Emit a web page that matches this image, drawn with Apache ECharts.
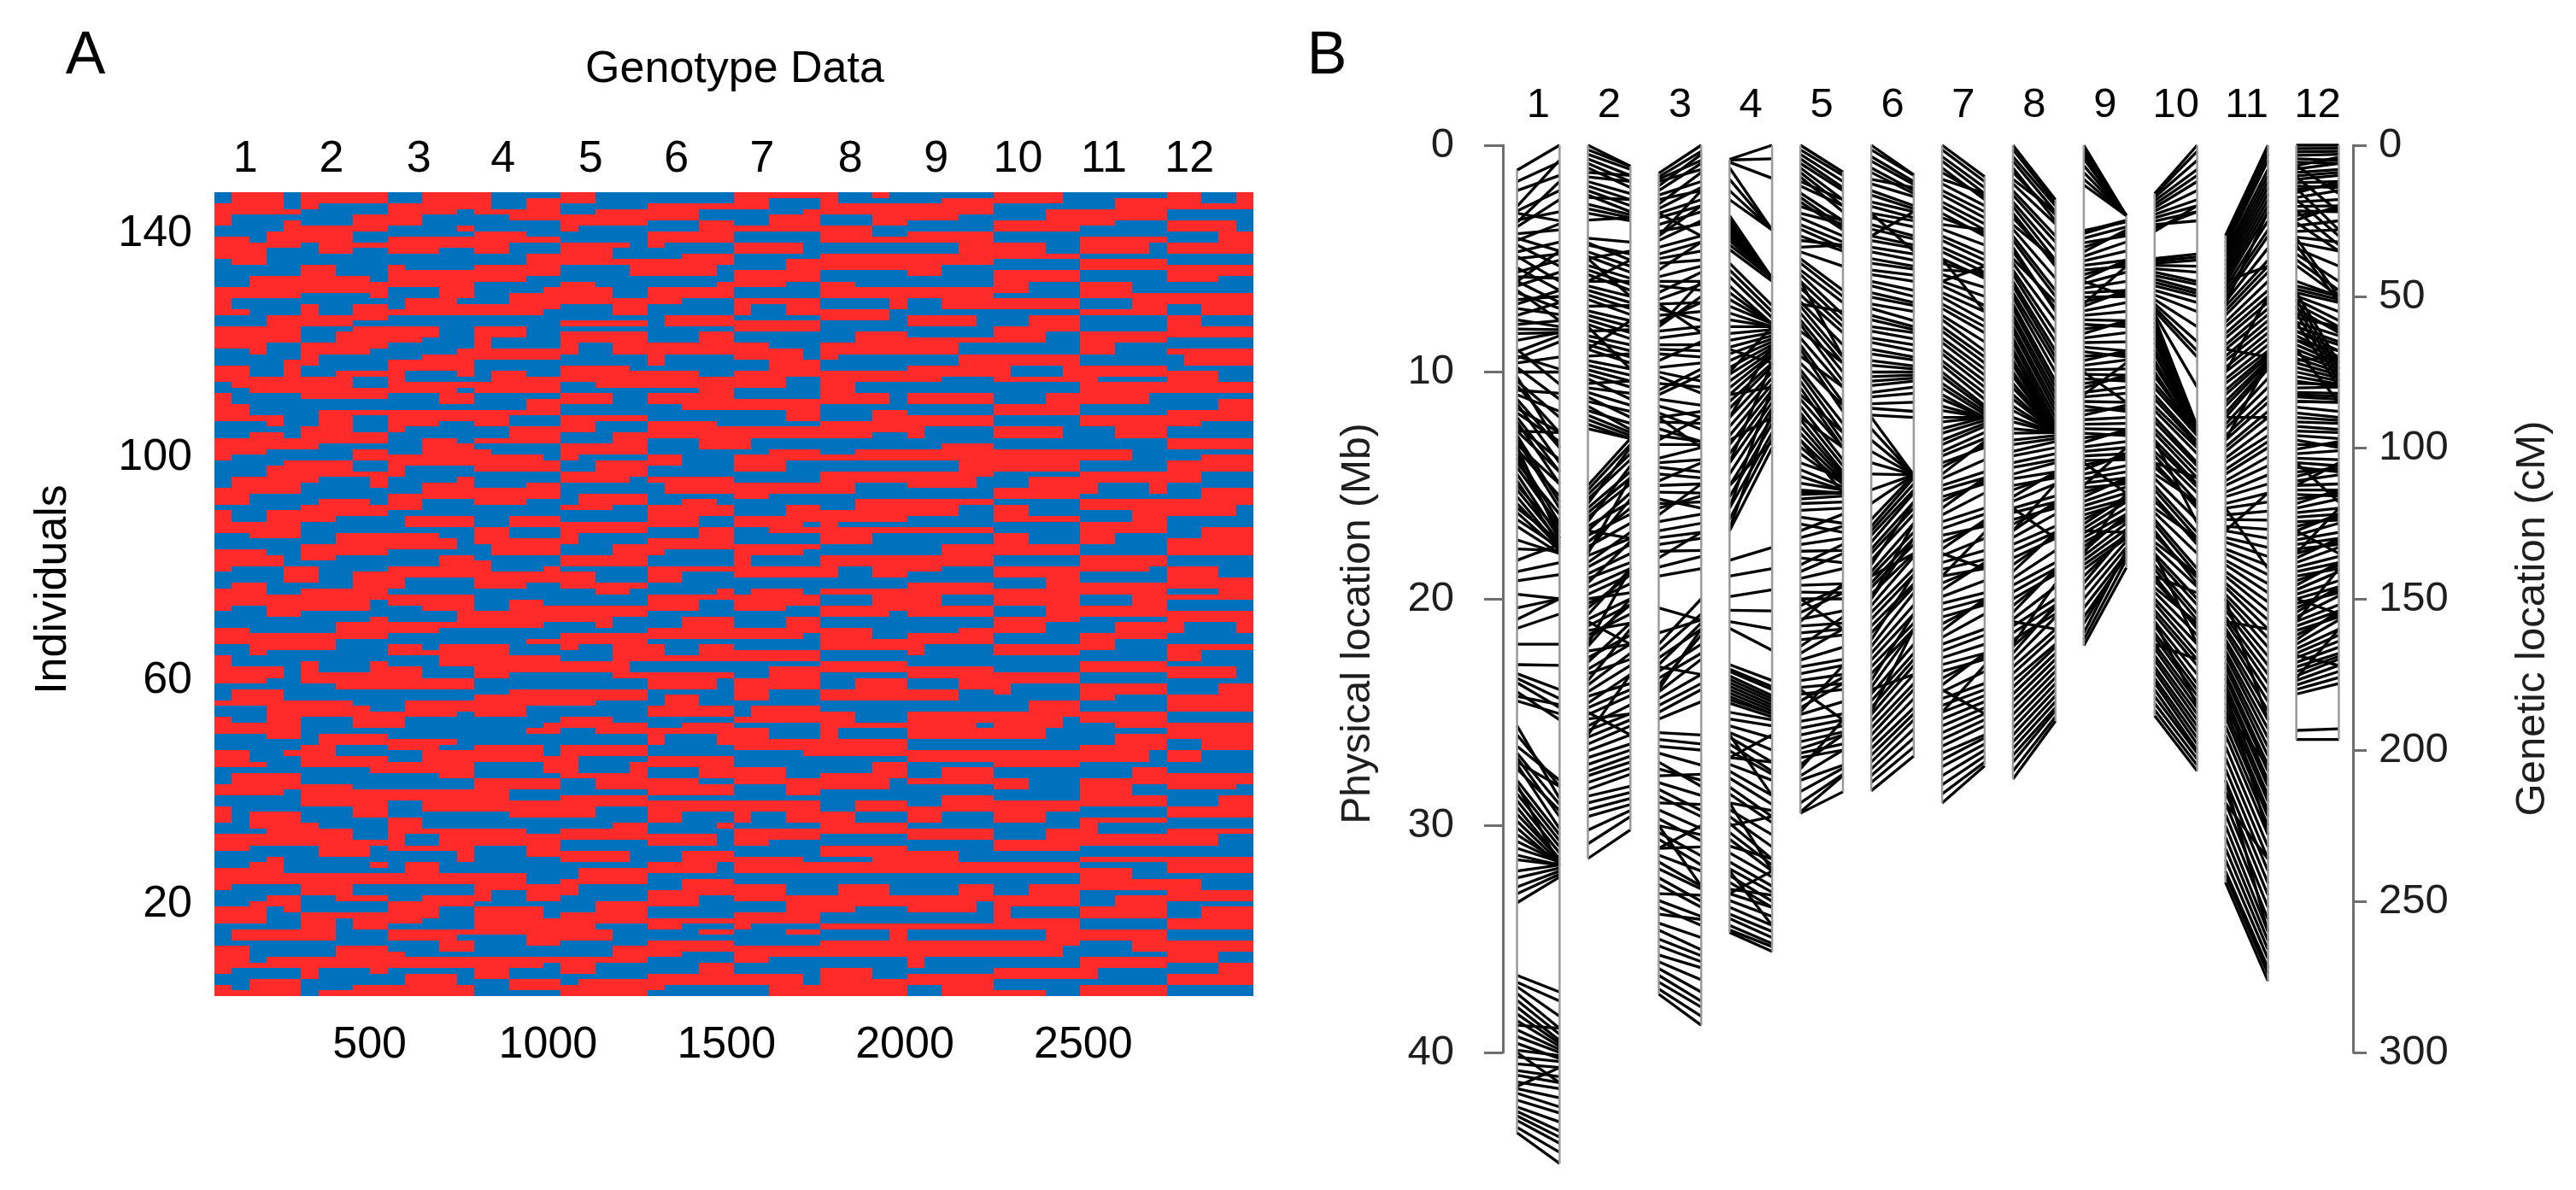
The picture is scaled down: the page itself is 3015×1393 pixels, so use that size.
<!DOCTYPE html>
<html><head><meta charset="utf-8">
<script src="https://cdn.jsdelivr.net/npm/echarts@6.0.0/dist/echarts.min.js"></script>
<style>html,body{margin:0;padding:0;background:#fff;}#c{width:3015px;height:1393px;}</style>
</head><body><div id="c"></div>
<script>
const FONT = '"Liberation Sans", Arial, Helvetica, sans-serif';
const RED = '#FF2B2B', BLUE = '#0072BD';

// ---------- Panel A : genotype data ----------
const markerMin = 65, markerMax = 2977;
const markerTicks = [500, 1000, 1500, 2000, 2500];
const individualTicks = [20, 60, 100, 140];
const individualMin = 3.5, individualMax = 147.5;
const chromNames = ['1','2','3','4','5','6','7','8','9','10','11','12'];
const chromLabelPosA = [152, 393, 638, 874, 1119, 1360, 1600, 1847, 2088, 2317, 2558, 2798];
const binsPerChrom = 5;
const topIndividual = 147;
// per chromosome: 144 tokens (individual 147 at top down to 4), each 5 marker bins; 1 = red, 0 = blue
const genoChr1 = `01110 01110 11110 11111 10000 10001 00001 00011 11011 11111 11100 11100
01100 00000 00000 00111 00111 11111 11111 10000 10000 11000 00011 00011
11111 11111 11111 11100 00100 00000 00001 11001 11001 11111 01111 00111
10000 10000 11000 11000 11110 00010 00000 00110 11111 11111 11100 10000
00001 00011 00011 01111 01111 11111 11000 11000 00000 10011 10011 11111
11111 00111 00000 00000 11100 11110 11110 10001 00001 00001 01100 11100
11111 11111 10011 00011 00000 00000 11000 11111 11111 00111 00100 10000
10000 11110 11110 11100 00000 01110 01110 11111 00011 00011 10011 11111
11111 00011 00000 00000 11001 11000 11100 00000 01111 01111 11111 11110
00000 00000 10000 10111 10111 00111 00011 11111 11111 11000 00000 00010
00110 11110 11111 11111 10000 00000 00011 00111 11101 11100 11100 00000
01111 01111 00000 11000 11000 11011 11111 10000 00000 00111 10111 11111`;
const genoChr2 = `11111 11111 10000 00000 00011 00011 11111 11100 11100 01111 01100 00000
00000 11000 11000 11110 11111 11111 00001 00000 10011 10011 11111 11100
00011 00111 00111 11111 11110 10000 10000 00000 00111 11100 11100 11111
11111 00000 00000 01111 01100 01100 11100 11111 11111 10000 00011 00011
11100 11100 11111 10001 00001 00000 00000 01110 11111 11111 11000 00000
00000 00111 00111 11111 11111 11000 00000 10000 10011 10011 00011 11111
11111 11110 11110 00000 00001 00111 00111 11111 11000 11000 00000 00000
10001 10001 11111 11111 00111 00000 00000 11100 11110 11111 00011 00011
00000 01111 01111 11000 11000 11111 11111 00001 00000 00000 11100 11111
11111 11111 00011 00011 00000 10000 11100 11100 11111 01110 01110 00000
00001 00000 11111 11111 11100 11100 00111 00000 00000 11111 11011 11011
11000 11000 00000 00111 00111 11111 11111 10001 10000 00000 00011 01111`;
const genoChr3 = `00111 00111 11111 11110 11000 11000 00001 00000 11111 11111 11100 00000
00000 10000 11111 11111 11111 00011 00011 01110 01111 11111 00000 00000
11100 11100 11000 00000 00001 00111 11111 11111 10001 10000 11111 11110
00011 00011 00000 11111 11111 11100 10000 00000 00110 00111 00111 11111
11111 10000 10000 00001 00111 00111 11111 11000 11000 00000 01111 01111
00000 11100 11110 11110 00000 00011 00011 11111 11111 10000 10000 00000
11111 11111 00111 00001 00001 11111 11100 00000 00000 11011 11111 00011
00011 11000 11000 11111 11111 00000 00000 01111 01111 11110 10000 10000
00000 00000 11110 11100 00111 00111 11111 11111 00011 00000 00000 11111
11111 00111 00111 00000 11000 11000 11111 10011 10011 11111 00001 00001
01100 01100 11111 11111 00000 00000 00111 11111 11100 11100 11000 00000
11111 11110 00011 00011 10000 11111 11111 00000 01110 01110 11111 11111`;
const genoChr4 = `10000 10011 10011 11111 00111 00000 00000 11100 11111 11000 11000 00011
00011 11111 11111 11100 00000 00001 00111 00111 11111 11110 00000 00000
11100 11100 10000 10000 11111 11111 00000 00000 01100 01111 11111 11111
00000 00011 00011 11111 11000 11000 00111 00111 11111 00000 10000 11110
11111 11111 00000 00000 00011 11111 11111 11100 00000 00000 00111 00111
11000 11000 11111 01111 01111 00000 10000 10001 11111 11111 11100 00000
00000 00110 00111 11111 11111 11110 00000 00000 00011 11000 11000 11111
11111 11111 11000 00000 00000 00111 11111 11111 11100 11100 00000 00001
00011 00000 00000 11110 11110 11111 00001 00001 00000 11111 11111 11000
11000 11111 11111 00111 00000 00000 11100 11111 11111 00011 00011 00000
00000 00000 11100 11100 11111 10011 10011 00000 11110 11110 11111 11111
11111 00011 00011 00000 00000 11111 11110 11000 11000 00111 00111 00000`;
const genoChr5 = `11000 11000 00000 00111 11111 11111 10000 00000 00000 11110 11100 11100
11111 00001 00001 00000 11000 11100 11100 11111 00011 00011 00000 11111
00000 11111 11111 10011 10011 00000 00000 11110 11111 11111 00111 00000
11100 11100 00000 00000 11111 11000 11000 00011 00011 11111 11111 10000
00111 00111 11111 11110 00000 00000 01111 01111 11100 00000 00000 11111
11111 10000 10000 00011 00011 11111 11111 00000 11000 11000 11111 00110
00000 00000 11111 11111 11100 00100 00000 11111 11111 10011 00011 00011
11110 11110 00011 00000 00000 11111 11111 11000 00000 00000 11100 11111
00111 00000 00000 11111 11111 10000 10001 10001 11111 00111 00111 00000
11111 11111 11000 11000 00000 00011 11111 11111 00000 00000 11110 11110
00000 01111 01111 11111 10000 10000 00000 00111 00111 11111 11111 11000
11100 11100 00000 00011 00011 11111 11000 11000 00000 01111 11111 11111`;
const genoChr6 = `00000 00000 11111 11100 11100 00011 00011 11111 11111 10000 00000 00111
11111 11110 11110 00000 00001 11111 11111 11000 00000 00000 01111 01111
00000 00011 00011 11111 11111 10000 10000 00000 11100 11111 11111 00011
11111 11111 00111 00000 00000 11110 11111 11111 00011 00011 00000 11000
11000 00000 00000 11111 01111 01111 00000 00110 11111 11111 11100 11100
00011 00011 11111 11111 10000 00000 00000 11111 11000 11000 00000 00001
11111 11100 11100 00000 00111 00111 11111 11111 00000 10011 10011 11111
00000 00000 11111 11110 11110 00000 01100 01100 11111 11111 00000 00111
11111 10001 10001 00000 00000 11111 11111 00011 00011 11100 11111 11111
00000 11111 11111 11000 11000 00001 00000 11110 11110 00000 00111 00111
11110 11110 00000 00111 00111 11111 11100 11100 00000 00000 11111 11000
00011 00000 11111 11111 11000 00000 00011 00011 11111 11111 10000 00000`;
const genoChr7 = `11111 11000 11000 00001 00111 00111 11111 00000 00000 11110 11110 00000
00011 00011 11111 11111 11100 00000 00000 11111 10011 10011 00000 11111
11111 00000 00000 11000 11110 11110 00111 00111 11111 11100 11100 00000
00000 11111 11111 00011 00011 00000 11111 11111 10000 10000 00111 11111
11100 11100 00000 00000 11111 11111 11000 00000 00011 00011 11111 11110
00111 00000 00000 11111 11110 10000 10000 11111 11111 00000 00000 01110
11111 11111 11100 00000 00011 00011 11111 11110 00000 00000 11111 11111
00000 00111 00111 11111 11111 11000 11000 00000 01111 01111 11111 00000
11000 11000 11111 11111 00001 00000 00000 11100 11100 11111 00011 00011
00000 11111 11111 10011 10011 00000 11111 11111 11000 00000 00000 11110
11111 11111 00000 00000 11100 11100 11111 00011 00011 11111 11111 10000
00011 00000 00000 11111 11111 11000 00000 00000 11110 11110 00111 00111`;
const genoChr8 = `10010 10000 11111 11111 00011 00011 11100 11100 11111 00000 00000 11111
11111 11111 00000 00000 11000 11111 11111 00001 00001 11110 11110 00000
00000 00111 00111 11111 11111 10000 00000 00000 11111 11111 11000 11000
11110 11110 00000 00011 00011 11111 11111 11100 00000 00000 00111 11111
00000 00000 11111 11111 11000 11000 00000 00111 00111 11111 11111 10000
11111 11100 11100 00000 00000 11111 11111 10011 10011 00000 00000 11111
00011 00011 11111 11110 00000 00000 11100 11100 11111 11111 00000 00000
11111 11111 00000 00111 00111 11111 11111 00000 00000 11000 11000 11111
10000 10000 11111 11111 11111 00000 00011 00011 11111 11110 11110 00000
00000 00111 00111 11000 11000 11111 11111 00000 00000 11111 11111 00011
11111 11111 00000 00000 01110 01110 11111 11111 11000 00000 00000 11111
00001 00001 11111 11111 11111 00000 00000 11100 11100 11111 11111 11111`;
const genoChr9 = `00000 00111 11111 11111 11100 00000 00000 11111 11111 00011 00011 11111
11111 11000 11000 00000 00000 11111 11111 00111 00111 00000 11110 11110
00000 00000 11111 11100 11100 00011 00011 11111 11111 11000 00000 00000
11111 11111 00000 00000 11111 11111 10000 10000 00000 00111 11111 11111
00011 00011 11111 11110 11110 00000 00000 11111 11100 11100 00000 00000
11111 00000 00000 00111 00111 11111 11111 11000 00000 00000 11111 11111
11000 11000 11111 11111 00000 00000 00011 11111 11111 10000 10000 00000
00000 11111 11111 00011 00011 11100 11100 00000 00000 11111 11111 11110
11111 11111 00000 00000 11111 11111 00000 00111 00111 11111 00000 00000
00111 00111 11111 11000 11000 00000 11111 11111 00000 00000 11100 11100
11111 11111 00000 00000 00011 00011 11111 11110 11110 00000 00000 11111
00000 00000 11111 11111 11111 10000 10000 00000 11111 11111 00111 00111`;
const genoChr10 = `11110 11110 00000 00011 00011 11111 11111 00000 00000 11100 11100 11111
00000 00000 11111 11111 11000 11000 00000 11111 11111 00000 00111 00111
11111 11100 11100 00000 00000 11111 11111 10001 10001 11111 00000 00000
00011 00011 11111 11111 00000 00000 11110 11110 00000 00000 11111 11111
11111 11111 00000 00111 00111 11111 11111 00000 11000 11000 11111 00000
00000 11000 11000 11111 11111 00000 00000 11111 11111 00011 00011 11111
11111 11111 00011 00011 11111 11100 11100 00000 00000 11111 11111 00000
00000 00000 11111 11111 10000 10000 00000 00111 00111 11111 11110 11110
11100 11100 00000 00000 11111 11111 11111 00000 00000 11000 11000 00000
00000 11111 11111 11100 11100 00000 00011 00011 11111 11111 00000 00000
11111 11111 00000 00000 00111 00111 11111 11111 10000 10000 11111 11111
00011 00011 11111 11110 11110 00000 00000 11111 11111 00000 00000 11100`;
const genoChr11 = `00000 00111 00111 11111 11111 11000 00000 00000 11111 11110 11110 00000
11111 11111 00000 00000 11100 11100 11111 00011 00011 11111 00000 00000
00000 11111 11111 11000 11000 00000 00000 11111 11111 10000 11111 11111
11110 11110 00000 00000 11111 11111 00111 00111 00000 00000 11100 11100
00000 00000 11111 11111 10001 10001 00000 11111 11111 00011 00011 11111
11111 11000 11000 00000 00000 11111 11111 11110 00000 00000 11111 11111
00011 00011 11111 11111 00000 00111 00111 11111 11000 11000 00000 00000
11111 11111 00000 00000 11111 11111 11000 00000 00000 11111 11111 00111
00000 00111 00111 11111 11110 11110 00000 00011 00011 11111 11100 11100
11111 11111 00000 00000 11111 10000 10000 11111 11111 00000 00000 11111
00000 11100 11100 11111 11111 00000 00111 00111 11111 11111 00000 00000
11111 11111 00011 00011 00000 11111 11111 10000 10000 00000 11111 11111`;
const genoChr12 = `11001 11001 11111 00000 00000 11110 11110 00011 00011 11111 11111 00000
00000 11111 11111 11100 00000 00000 11111 11111 00111 00111 11000 11000
11111 11111 00000 00000 11111 01111 01111 00000 11100 11100 11111 11111
00000 00011 00011 11111 11111 11000 00000 00000 11111 11111 00000 00111
11111 11111 11000 11000 00000 00111 00111 11111 11110 11110 00000 00000
00111 00111 11111 11111 11111 00000 00000 11100 11100 11111 11111 00011
11111 00000 00000 11111 11111 10001 10001 00000 00000 11111 11000 11000
00000 11110 11110 00000 00011 00011 11111 11111 11111 00000 00000 11111
11111 11111 00111 00111 11000 11000 00000 00000 11111 11111 11110 00000
00011 00011 11111 11111 00000 00000 11111 11100 11100 00000 00000 11111
11111 11111 00000 11000 11000 11111 11111 00000 00111 00111 11111 11111
00000 00000 11111 11111 11100 11100 00011 00011 11111 11111 00000 00000`;
const genoChroms = [genoChr1, genoChr2, genoChr3, genoChr4, genoChr5, genoChr6,
                    genoChr7, genoChr8, genoChr9, genoChr10, genoChr11, genoChr12];

// ---------- Panel B : physical (Mb) vs genetic (cM) position of each marker ----------
const physMax = 40, physStep = 10;
const genMax = 300, genStep = 50;
const chr1 = [[1.10,0],[1.6,5.6],[2.7,5],[2.9,15],[3.3,22],[3.6,18],[3.9,28],[4.4,40],[4.7,32],[5.0,36],[5.4,48],[5.8,44],[6.2,42],[6.5,54],[6.8,50],[7.2,56],[7.5,52],[7.9,58],[8.1,61],[8.3,62],[9.0,79],[9.1,63],[9.6,70],[10.0,75],[10.4,90],[10.8,82],[11.2,100],[11.6,95],[12.0,108],[12.4,104],[12.8,118],[13.2,112],[13.6,125],[14.0,122],[14.5,130],[15.0,128],[15.5,133],[16.0,131],[16.5,133],[17.4,135],[18.3,132],[18.8,138],[19.8,150],[20.9,150],[21.3,155],[22.0,165],[22.9,172],[23.3,180],[23.7,186],[24.1,190],[24.5,188],[25.6,216],[26.5,210],[27.0,222],[27.5,220],[28.0,228],[28.6,232],[29.2,236],[29.8,237],[30.4,237],[31.0,237],[31.5,238],[32.0,238],[32.7,240],[33.4,242],[36.6,280],[36.9,283],[37.4,292],[38.0,296],[38.6,298],[39.3,300],[39.9,301],[40.5,305],[41.0,310],[41.6,315],[42.1,320],[42.6,326],[43.0,330],[43.54,336.7],
 [2.0,10],[3.0,25],[4.1,35],[4.9,45],[5.6,38],[6.0,52],[7.0,48],[7.7,60],[8.6,62],[9.3,74],[9.8,84],[10.6,95],[11.0,88],[11.4,105],[11.8,98],[12.2,112],[12.6,108],[13.0,120],[13.4,116],[13.8,128],[14.2,126],[14.8,132],[15.2,131],[15.8,133],[16.2,134],[16.8,135],[17.8,134],[19.2,142],[20.4,150],[23.5,183],[24.3,185],[26.0,212],[26.8,218],[27.3,226],[28.3,230],[28.9,234],[29.5,236],[30.1,238],[30.7,237],[31.3,238],[32.3,239],[33.0,241],[37.1,288],[37.7,294],[38.3,297],[39.0,299],[39.6,302],[40.2,303],[40.8,308],[41.3,312],[41.8,318],[42.4,323],[42.8,328],[43.3,333],
 [3.4,12],[4.2,26],[6.0,35],[6.4,58],[9.4,65],[10.2,100],[12.6,95],[13.3,130],[27.2,212],[28.2,238],[38.8,292],[40.0,310],[41.5,305]];
const chr2 = [[0,6.9],[0.4,8],[0.8,12],[1.2,10],[1.6,16],[2.0,20],[2.3,18],[2.6,23],[3.0,25],[3.3,24],[4.1,32],[4.4,36],[4.7,40],[5.0,35],[5.3,44],[5.7,48],[6.0,45],[6.4,52],[6.8,56],[7.1,53],[7.5,60],[7.9,64],[8.2,61],[8.6,68],[9.0,72],[9.3,69],[9.7,76],[10.1,80],[10.5,78],[10.9,86],[11.3,88],[11.7,92],[12.1,96],[12.5,97],[15.0,97],[15.4,102],[15.8,100],[16.2,110],[16.6,106],[17.0,115],[17.5,120],[17.9,117],[18.4,128],[18.9,135],[19.3,131],[19.8,142],[20.2,145],[20.7,140],[21.2,152],[21.6,155],[22.1,150],[22.6,162],[23.1,165],[23.6,160],[24.1,172],[24.6,175],[25.1,182],[25.6,185],[26.1,190],[26.7,195],[27.3,200],[27.8,204],[28.4,208],[29.0,214],[29.6,218],[30.2,220],[30.8,222],[31.45,226.4],
 [0.2,7],[0.6,10],[1.0,14],[1.4,12],[1.8,18],[2.2,22],[2.8,24],[4.3,38],[4.9,42],[5.5,46],[6.2,50],[6.6,54],[7.3,58],[7.7,62],[8.4,66],[8.8,70],[9.5,74],[9.9,78],[10.3,84],[10.7,82],[11.1,90],[11.5,94],[11.9,95],[12.3,97],[15.2,99],[15.6,104],[16.0,108],[16.4,112],[16.8,118],[17.2,122],[17.7,125],[18.1,130],[18.6,132],[19.1,138],[19.5,140],[20.0,148],[20.4,142],[20.9,150],[21.4,158],[21.8,152],[22.3,165],[22.8,158],[23.3,170],[23.8,168],[24.3,178],[24.8,180],[25.3,188],[25.8,188],[26.4,192],[27.0,198],[27.6,202],[28.1,206],[28.7,212],[29.3,216],
 [5.0,50],[6.0,38],[8.0,74],[9.0,58],[17.0,130],[18.0,110],[21.0,165],[22.0,140],[25.0,195],[26.0,175]];
const chr3 = [[1.24,0],[1.5,5],[1.8,3],[2.2,12],[2.6,9],[3.0,18],[3.5,22],[4.0,20],[4.5,30],[5.0,35],[5.5,32],[6.0,45],[6.5,42],[7.0,52],[7.5,55],[8.0,50],[8.5,62],[9.0,68],[9.5,65],[10.0,78],[10.5,80],[11.0,76],[11.5,90],[12.0,88],[12.5,98],[13.2,99],[13.8,100],[14.2,108],[14.8,105],[15.3,115],[15.8,118],[16.3,112],[17.0,125],[17.6,130],[18.2,128],[19.0,140],[20.4,157],[21.5,157],[22.0,150],[22.6,160],[23.2,165],[23.8,162],[24.4,175],[25.0,180],[25.9,195],[26.5,200],[27.2,212],[27.8,208],[28.4,220],[29.0,218],[29.7,230],[30.3,235],[31.0,232],[31.6,245],[32.3,250],[33.0,248],[33.6,258],[34.3,262],[35.0,268],[35.7,272],[36.3,280],[36.9,285],[37.43,291],
 [1.4,2],[1.6,8],[2.0,6],[2.4,15],[2.8,14],[3.2,20],[3.8,26],[4.2,25],[4.8,32],[5.2,38],[5.8,40],[6.2,48],[6.8,46],[7.2,58],[7.8,52],[8.2,60],[8.8,66],[9.2,70],[9.8,72],[10.2,82],[10.8,74],[11.2,86],[11.8,94],[12.2,92],[12.8,98],[14.0,104],[14.5,110],[15.0,112],[15.6,120],[16.0,116],[16.6,122],[17.3,128],[17.9,134],[18.6,136],[22.3,155],[22.9,158],[23.5,168],[24.1,170],[24.7,178],[25.3,184],[26.2,198],[26.8,205],[27.5,210],[28.1,215],[28.7,222],[29.3,226],[30.0,228],[30.6,238],[31.3,240],[31.9,246],[32.6,252],[33.3,255],[33.9,256],[34.6,266],[35.3,270],[36.0,276],[36.6,283],[37.2,288],
 [3.0,30],[4.0,15],[7.0,62],[8.0,45],[12.0,100],[13.0,90],[23.0,175],[24.0,160],[30.0,245],[31.0,225]];
const chr4 = [[0.62,0],[0.65,4.5],[0.75,10.9],[1.0,28],[1.5,28],[2.0,28],[2.4,28],[3.1,44],[3.2,44],[3.3,44],[3.45,44],[3.6,44],[3.75,44],[3.9,44],[4.05,44],[4.2,44],[4.4,44],[4.6,45],[5.2,53],[5.5,55],[5.8,57],[6.2,59],[6.5,59],[6.8,59],[7.1,59],[7.4,60],[7.7,60],[8.0,60],[8.3,61],[8.6,62],[8.9,63],[9.2,64],[9.5,65],[9.8,66],[10.1,67],[10.4,68],[10.7,69],[11.0,70],[11.3,72],[11.6,73],[12.0,75],[12.4,77],[12.8,79],[13.2,81],[13.6,83],[14.0,85],[14.5,87],[15.0,90],[15.5,92],[16.0,95],[16.5,97],[17.0,100],
 [9.0,72],[10.0,60],[11.0,80],[12.0,66],[13.0,90],[14.0,72],[15.0,98],[16.0,80],[16.9,88],
 [18.3,133],[19.0,140],[19.9,147],[20.5,154],[21.0,160],[21.3,167],[22.9,177],[23.1,179],[23.2,180],[23.4,182],[23.55,183],[23.7,184],[23.85,185],[24.0,186],[24.15,187],[24.3,188],[24.45,188],[24.6,189],[25.0,190],[25.3,192],[25.6,196],[25.9,200],[26.1,204],[26.4,207],[26.7,208],[27.0,204],[27.3,210],[27.6,215],[27.9,218],[28.3,222],[28.6,224],[29.0,220],[29.3,228],[29.6,232],[29.9,236],[30.3,238],[30.6,240],[30.9,236],[31.2,242],[31.6,245],[31.9,247],[32.2,250],[32.5,252],[32.8,248],[33.0,252],[33.3,255],[33.6,258],[33.9,260],[34.1,262],[34.4,264],[34.6,265],[34.71,266.6],
 [26.0,215],[27.0,195],[29.0,240],[30.0,222],[32.0,258],[33.0,240]];
const chr5 = [[0,8.9],[0.4,12],[0.8,15],[1.2,20],[1.6,18],[2.1,25],[2.5,28],[3.0,26],[3.5,32],[4.0,35],[4.5,33],[5.0,48],[5.5,52],[6.0,58],[6.6,62],[7.1,70],[7.7,75],[8.2,72],[8.8,85],[9.3,80],[9.9,92],[10.4,98],[11.0,95],[11.5,104],[12.1,108],[12.7,110],[13.3,112],[14.0,110],[14.6,114],[15.2,115],[15.4,115],[15.8,118],[16.4,125],[17.0,122],[17.6,130],[18.2,138],[18.8,135],[19.4,145],[20.0,150],[20.6,148],[21.2,158],[21.8,162],[22.4,160],[23.0,170],[23.6,175],[24.2,180],[24.8,178],[25.4,188],[26.0,192],[26.6,195],[27.0,200],[27.5,190],[28.0,205],[29.4,208.5],[29.45,213.8],
 [0.2,10],[0.6,14],[1.0,18],[1.4,22],[1.8,20],[2.3,27],[2.7,25],[3.2,30],[3.7,34],[4.2,33],[4.7,40],[5.2,50],[5.7,56],[6.3,60],[6.9,66],[7.4,72],[7.9,78],[8.5,80],[9.0,88],[9.6,86],[10.1,95],[10.7,100],[11.2,100],[11.8,106],[12.4,109],[13.0,111],[13.6,112],[14.3,113],[14.9,114],[15.3,115],[15.6,116],[16.1,120],[16.7,128],[17.3,126],[17.9,134],[18.5,132],[19.1,140],[19.7,148],[20.3,146],[20.9,154],[21.5,160],[22.1,156],[22.7,166],[23.3,172],[23.9,178],[24.5,176],[25.1,184],[25.7,190],[26.3,194],[26.8,198],[27.3,195],[27.8,200],[28.5,206],[29.0,208],
 [6.0,70],[7.0,55],[12.0,100],[13.0,115],[20.0,160],[21.0,145],[24.0,190],[25.0,172]];
const chr6 = [[0,9.8],[0.5,12],[1.0,15],[1.5,14],[2.0,20],[2.5,22],[3.0,25],[3.5,30],[4.0,33],[4.5,36],[5.0,40],[5.5,43],[6.0,48],[6.5,52],[7.0,55],[7.5,60],[8.0,62],[8.5,66],[9.0,70],[9.5,73],[10.0,75],[10.4,77],[10.9,80],[11.4,85],[11.9,90],[12.0,109],[13.0,109],[14.0,109],[15.2,109],[16.5,109],[17.0,112],[17.5,115],[18.0,120],[18.5,118],[19.0,128],[19.5,132],[20.0,130],[20.6,140],[21.2,145],[21.8,142],[22.4,152],[23.0,158],[23.6,155],[24.2,165],[24.8,170],[25.4,175],[26.0,180],[26.6,186],[27.2,190],[27.8,196],[28.46,202],
 [0.2,10],[0.7,13],[1.2,16],[1.7,17],[2.2,21],[2.7,24],[3.2,27],[3.7,31],[4.2,34],[4.7,38],[5.2,41],[5.7,45],[6.2,50],[6.7,53],[7.2,58],[7.7,61],[8.2,64],[8.7,68],[9.2,71],[9.7,74],[10.2,76],[10.6,78],[11.1,82],[11.6,88],[12.5,109],[13.5,109],[14.5,109],[15.8,109],[16.8,110],[17.2,114],[17.8,118],[18.3,122],[18.8,125],[19.3,130],[19.8,135],[20.3,136],[20.9,142],[21.5,146],[22.1,148],[22.7,155],[23.3,160],[23.9,160],[24.5,168],[25.1,172],[25.7,178],[26.3,183],[26.9,188],[27.5,193],[28.1,199],
 [3.0,35],[4.0,22],[19.0,135],[20.0,125],[24.0,175],[25.0,160]];
const chr7 = [[0,10.4],[0.5,14],[1.0,18],[1.5,16],[2.0,22],[2.5,26],[3.0,30],[3.5,28],[4.0,36],[4.5,40],[5.0,44],[5.5,42],[6.0,50],[6.5,55],[7.0,60],[7.5,65],[8.0,70],[8.5,74],[9.0,78],[9.5,82],[10.0,86],[10.5,88],[11.0,90],[11.5,90],[12.0,90],[12.5,90],[13.0,92],[13.5,95],[14.0,100],[14.5,98],[15.0,108],[15.5,112],[16.0,110],[16.6,120],[17.2,126],[17.8,124],[18.4,134],[19.0,140],[19.6,138],[20.2,148],[20.8,152],[21.4,150],[22.0,160],[22.6,165],[23.2,170],[23.8,168],[24.4,178],[25.0,182],[25.6,186],[26.2,190],[26.8,195],[27.4,198],[28.2,202],[29.0,205.2],
 [0.2,12],[0.7,16],[1.2,17],[1.7,20],[2.2,24],[2.7,28],[3.2,29],[3.7,33],[4.2,38],[4.7,42],[5.2,43],[5.7,47],[6.2,53],[6.7,58],[7.2,62],[7.7,68],[8.2,72],[8.7,76],[9.2,80],[9.7,84],[10.2,87],[10.7,89],[11.2,90],[11.7,90],[12.2,90],[12.7,91],[13.2,93],[13.7,97],[14.2,99],[14.7,104],[15.2,110],[15.7,111],[16.3,115],[16.9,122],[17.5,125],[18.1,130],[18.7,137],[19.3,139],[19.9,144],[20.5,150],[21.1,151],[21.7,155],[22.3,162],[22.9,168],[23.5,169],[24.1,174],[24.7,180],[25.3,184],[25.9,188],[26.5,192],[27.1,196],[27.8,200],[28.6,204],
 [5.0,55],[6.0,40],[18.0,140],[19.0,128],[24.0,188],[25.0,172]];
const chr8 = [[0,18],[0.5,20],[1.0,25],[1.5,22],[2.0,30],[2.5,35],[3.0,40],[3.5,38],[4.0,48],[4.5,55],[5.0,52],[5.5,62],[6.0,68],[6.5,72],[7.0,78],[7.5,82],[8.0,86],[8.5,90],[9.0,93],[9.5,94],[10.0,95],[10.5,95],[11.0,95],[11.5,95],[12.0,95],[12.5,95],[13.0,96],[13.5,98],[14.0,102],[14.5,105],[15.0,110],[15.5,108],[16.0,116],[16.5,120],[17.0,118],[17.6,126],[18.2,130],[18.8,128],[19.4,138],[20.0,142],[20.6,140],[21.2,150],[21.8,155],[22.4,152],[23.0,160],[23.6,165],[24.2,168],[24.8,172],[25.4,176],[26.0,180],[26.6,184],[27.2,187],[27.95,190.4],
 [0.2,19],[0.7,22],[1.2,23],[1.7,26],[2.2,32],[2.7,38],[3.2,39],[3.7,44],[4.2,50],[4.7,54],[5.2,58],[5.7,65],[6.2,70],[6.7,75],[7.2,80],[7.7,84],[8.2,88],[8.7,92],[9.2,94],[9.7,95],[10.2,95],[10.7,95],[11.2,95],[11.7,95],[12.2,95],[12.7,95],[13.2,97],[13.7,100],[14.2,104],[14.7,108],[15.2,109],[15.7,112],[16.2,118],[16.7,119],[17.3,122],[17.9,128],[18.5,129],[19.1,134],[19.7,140],[20.3,141],[20.9,146],[21.5,152],[22.1,153],[22.7,156],[23.3,162],[23.9,166],[24.5,170],[25.1,174],[25.7,178],[26.3,182],[26.9,186],[27.6,189],
 [16.0,130],[17.0,112],[21.0,160],[22.0,145]];
const chr9 = [[0,23.3],[0.3,23.3],[0.6,23.3],[1.2,23.3],[1.75,23.3],[3.76,25.4],[3.9,25],[4.3,30],[4.7,28],[5.1,35],[5.5,40],[5.9,38],[6.3,45],[6.7,50],[7.1,48],[7.5,55],[7.9,60],[8.3,58],[8.7,65],[9.1,70],[9.5,68],[9.9,74],[10.3,78],[10.7,76],[11.1,82],[11.5,88],[11.9,86],[12.3,92],[12.7,96],[13.1,94],[13.5,100],[13.9,104],[14.3,102],[14.7,108],[15.1,112],[15.5,110],[15.9,115],[16.3,118],[16.7,116],[17.1,120],[17.5,124],[17.9,122],[18.3,127],[18.7,130],[19.3,128],[20.0,133],[20.8,136],[21.5,134],[22.06,139.7],
 [0.15,23.3],[0.45,23.3],[0.9,23.3],[1.5,23.3],[3.8,24.8],[4.1,27],[4.5,29],[4.9,32],[5.3,38],[5.7,39],[6.1,42],[6.5,48],[6.9,49],[7.3,52],[7.7,58],[8.1,59],[8.5,62],[8.9,68],[9.3,69],[9.7,71],[10.1,76],[10.5,77],[10.9,80],[11.3,85],[11.7,87],[12.1,90],[12.5,94],[12.9,95],[13.3,98],[13.7,102],[14.1,103],[14.5,106],[14.9,110],[15.3,111],[15.7,113],[16.1,117],[16.5,117],[16.9,118],[17.3,122],[17.7,123],[18.1,125],[18.5,129],[19.0,129],[19.6,131],[20.4,135],[21.1,135],[21.8,137],
 [6.0,50],[7.0,40],[10.0,85],[11.0,72],[14.0,115],[15.0,100],[17.0,128],[18.0,115]];
const chr10 = [[2.13,0],[2.3,5],[2.6,10],[2.9,15],[3.2,20],[3.5,25],[3.8,20],[5.1,37],[5.3,40],[5.6,45],[5.9,48],[6.2,50],[6.6,55],[7.0,65],[7.3,70],[7.6,93],[8.0,95],[8.5,95],[9.0,95],[9.5,95],[10.0,96],[10.5,95],[11.0,98],[11.5,100],[12.0,105],[12.5,108],[13.0,112],[13.5,115],[14.0,120],[14.5,118],[15.0,128],[15.5,132],[16.0,130],[16.5,140],[17.0,145],[17.5,142],[18.0,150],[18.5,155],[19.0,160],[19.5,158],[20.0,165],[20.5,170],[21.0,175],[21.5,180],[22.0,184],[22.5,188],[23.0,192],[23.5,196],[24.0,200],[24.6,203],[25.15,206.9],
 [2.2,2],[2.45,8],[2.75,12],[3.05,18],[3.35,22],[3.65,22],[5.0,36],[5.2,38],[5.45,42],[5.75,46],[6.05,49],[6.4,52],[6.8,60],[7.15,68],[7.45,80],[7.8,94],[8.2,95],[8.7,95],[9.2,95],[9.7,95],[10.2,95],[10.7,96],[11.2,99],[11.7,102],[12.2,106],[12.7,110],[13.2,113],[13.7,118],[14.2,119],[14.7,124],[15.2,130],[15.7,131],[16.2,135],[16.7,142],[17.2,143],[17.7,146],[18.2,152],[18.7,157],[19.2,159],[19.7,162],[20.2,168],[20.7,172],[21.2,178],[21.7,182],[22.2,186],[22.7,190],[23.2,194],[23.7,198],[24.3,201],[24.9,205],
 [13.0,125],[14.0,110],[18.0,165],[19.0,148],[21.0,185],[22.0,170]];
const chr11 = [[3.98,0],[4.3,3],[4.7,8],[5.1,12],[5.5,16],[5.9,20],[6.3,25],[6.7,30],[7.1,38],[7.5,42],[8.0,48],[8.5,52],[9.0,56],[9.5,60],[10.0,64],[10.5,68],[11.0,70],[11.5,72],[12.0,74],[12.5,80],[13.0,85],[13.5,90],[14.0,96],[14.5,100],[15.0,106],[15.5,112],[16.0,118],[16.5,124],[17.0,130],[17.5,136],[18.0,142],[18.5,148],[19.0,154],[19.5,160],[20.0,166],[20.5,172],[21.0,178],[21.5,184],[22.0,190],[22.5,196],[23.0,202],[23.5,207],[24.0,212],[24.6,217],[25.2,222],[26.0,228],[27.0,236],[28.0,244],[29.0,252],[30.0,260],[31.0,266],[32.0,272],[32.5,276.4],
 [4.1,1],[4.5,5],[4.9,10],[5.3,14],[5.7,18],[6.1,22],[6.5,28],[6.9,34],[7.3,40],[7.8,45],[8.3,50],[8.8,54],[9.3,58],[9.8,62],[10.3,66],[10.8,69],[11.3,71],[11.8,73],[12.3,77],[12.8,83],[13.3,88],[13.8,93],[14.3,98],[14.8,103],[15.3,109],[15.8,115],[16.3,121],[16.8,127],[17.3,133],[17.8,139],[18.3,145],[18.8,151],[19.3,157],[19.8,163],[20.3,169],[20.8,175],[21.3,181],[21.8,187],[22.3,193],[22.8,199],[23.3,205],[23.8,210],[24.3,215],[24.9,220],[25.6,225],[26.5,232],[27.5,240],[28.5,248],[29.5,256],[30.5,263],[31.5,269],[32.2,274],
 [6.0,40],[7.0,22],[9.0,70],[10.0,50],[12.0,90],[13.0,72],[16.0,140],[17.0,115],[20.0,190],[21.0,160],[24.0,228],[25.0,205],[28.0,260],[29.0,236]];
const chr12 = [[0,0],[0.3,2],[0.6,5],[0.9,4],[1.2,8],[1.5,10],[1.8,14],[2.1,12],[2.5,18],[2.9,22],[3.3,20],[3.8,28],[4.3,35],[4.8,45],[5.3,50],[6.2,50],[6.5,52],[6.8,58],[7.2,62],[7.6,60],[8.0,65],[8.4,70],[8.8,72],[9.2,74],[9.6,76],[10.0,78],[10.4,80],[11.3,85],[11.8,90],[12.2,92],[12.6,95],[13.0,100],[13.4,98],[13.8,104],[14.2,108],[14.6,106],[15.0,112],[15.4,116],[15.8,114],[16.2,120],[16.6,124],[17.0,122],[17.4,128],[17.8,132],[18.2,130],[18.6,136],[19.0,140],[19.4,138],[19.8,144],[20.2,148],[20.6,146],[21.0,152],[21.4,156],[21.8,154],[22.2,160],[22.6,164],[23.0,168],[23.4,170],[23.8,174],[24.2,178],[25.8,193],[26.2,196.5],
 [0.15,1],[0.45,3],[0.75,6],[1.05,6],[1.35,9],[1.65,12],[1.95,13],[2.3,15],[2.7,20],[3.1,21],[3.55,25],[4.05,32],[4.55,40],[5.05,48],[6.0,50],[6.35,51],[6.65,55],[7.0,60],[7.4,61],[7.8,63],[8.2,68],[8.6,71],[9.0,73],[9.4,75],[9.8,77],[10.2,79],[11.0,83],[11.55,88],[12.0,91],[12.4,94],[12.8,97],[13.2,99],[13.6,101],[14.0,106],[14.4,107],[14.8,109],[15.2,114],[15.6,115],[16.0,117],[16.4,122],[16.8,123],[17.2,125],[17.6,130],[18.0,131],[18.4,133],[18.8,138],[19.2,139],[19.6,141],[20.0,146],[20.4,147],[20.8,149],[21.2,154],[21.6,155],[22.0,157],[22.4,162],[22.8,166],[23.2,169],[23.6,172],[24.0,176],
 [0.9,16],[1.4,22],[1.9,28],[2.4,30],[2.9,33],[3.4,35],[4.1,50],[4.4,52],[6.5,72],[6.8,74],[7.1,76],[7.4,78],[7.8,80],[8.2,66],[8.6,68],[10.5,79],[10.7,80],[10.9,82],[11.1,84],[11.3,85],
 [9.0,85],[9.5,70],[14.0,118],[15.0,105],[17.0,135],[18.0,120],[20.0,155],[21.0,140],[22.5,172],[23.5,160]];
const chromosomesB = [chr1, chr2, chr3, chr4, chr5, chr6, chr7, chr8, chr9, chr10, chr11, chr12];

// ---------- build series data ----------
const chromTokens = genoChroms.map(s => s.trim().split(/\s+/));
const nRows = chromTokens[0].length;
const binsPerRow = binsPerChrom * genoChroms.length;
const binW = (markerMax - markerMin) / binsPerRow;
const redSegments = [];
for (let i = 0; i < nRows; i++) {
  const bits = chromTokens.map(t => t[i] || '00000').join('');
  const ind = topIndividual - i;
  let j = 0;
  while (j < bits.length) {
    if (bits[j] === '1') {
      let k = j;
      while (k < bits.length && bits[k] === '1') k++;
      redSegments.push([markerMin + j * binW, markerMin + k * binW, ind]);
      j = k;
    } else j++;
  }
}
const markerLines = [];
const chromEdges = [];
chromosomesB.forEach((pairs, ci) => {
  const c = ci + 1;
  let pmin = Infinity, pmax = -Infinity, gmin = Infinity, gmax = -Infinity;
  pairs.forEach(([p, g]) => {
    markerLines.push([c, p, g]);
    pmin = Math.min(pmin, p); pmax = Math.max(pmax, p);
    gmin = Math.min(gmin, g); gmax = Math.max(gmax, g);
  });
  chromEdges.push([c, pmin, pmax, gmin, gmax]);
});
const HALF = 0.3;

const chart = echarts.init(document.getElementById('c'), null, {renderer: 'canvas', width: 3015, height: 1393});
const txt = {fontFamily: FONT, color: '#000'};

chart.setOption({
  animation: false,
  backgroundColor: '#fff',
  grid: [
    {left: 251, top: 225, width: 1216, height: 941, show: true, backgroundColor: BLUE, borderWidth: 0},
    {left: 1759, top: 170, width: 995, height: 1062}
  ],
  xAxis: [
    {gridIndex: 0, type: 'value', min: markerMin, max: markerMax, position: 'bottom',
     axisLine: {show: false}, axisTick: {show: false}, splitLine: {show: false},
     axisLabel: Object.assign({fontSize: 52, margin: 32, customValues: markerTicks, formatter: v => String(v)}, txt)},
    {gridIndex: 0, type: 'value', min: markerMin, max: markerMax, position: 'top',
     axisLine: {show: false}, axisTick: {show: false}, splitLine: {show: false},
     axisLabel: Object.assign({fontSize: 52, margin: 12, customValues: chromLabelPosA,
       formatter: v => chromNames[chromLabelPosA.indexOf(v)]}, txt)},
    {gridIndex: 1, type: 'value', min: 0.5, max: 12.5, position: 'top',
     axisLine: {show: false}, axisTick: {show: false}, splitLine: {show: false},
     axisLabel: Object.assign({fontSize: 49, margin: 22, customValues: [1,2,3,4,5,6,7,8,9,10,11,12]}, txt)}
  ],
  yAxis: [
    {gridIndex: 0, type: 'value', min: individualMin, max: individualMax,
     axisLine: {show: false}, axisTick: {show: false}, splitLine: {show: false},
     axisLabel: Object.assign({fontSize: 52, margin: 26, customValues: individualTicks}, txt)},
    {gridIndex: 1, type: 'value', min: 0, max: physMax, interval: physStep, inverse: true, position: 'left',
     axisLine: {show: true, lineStyle: {color: '#6e6e6e', width: 3}},
     axisTick: {show: true, length: 22, lineStyle: {color: '#6e6e6e', width: 3}},
     splitLine: {show: false},
     axisLabel: Object.assign({fontSize: 49, margin: 57}, txt, {color: '#1e1e1e'})},
    {gridIndex: 1, type: 'value', min: 0, max: genMax, interval: genStep, inverse: true, position: 'right',
     axisLine: {show: true, lineStyle: {color: '#6e6e6e', width: 3}},
     axisTick: {show: true, length: 16, lineStyle: {color: '#6e6e6e', width: 3}},
     splitLine: {show: false},
     axisLabel: Object.assign({fontSize: 49, margin: 30}, txt, {color: '#1e1e1e'})}
  ],
  series: [
    {
      type: 'custom', xAxisIndex: 0, yAxisIndex: 0, data: redSegments,
      encode: {x: [0, 1], y: 2}, clip: true, silent: true,
      renderItem(params, api) {
        const a = api.coord([api.value(0), api.value(2) + 0.5]);
        const b = api.coord([api.value(1), api.value(2) - 0.5]);
        const x = Math.round(a[0]), y = Math.round(a[1]);
        return {type: 'rect', shape: {x: x, y: y, width: Math.round(b[0]) - x, height: Math.round(b[1]) - y},
                style: {fill: RED}};
      }
    },
    {
      type: 'custom', xAxisIndex: 2, yAxisIndex: 1, data: markerLines,
      encode: {x: 0, y: 1}, clip: false, silent: true,
      renderItem(params, api) {
        const c = api.value(0), p = api.value(1), g = api.value(2);
        const L = api.coord([c - HALF, p]);
        const xR = api.coord([c + HALF, p])[0];
        const yR = chart.convertToPixel({yAxisIndex: 2}, g);
        return {type: 'line', shape: {x1: L[0], y1: L[1], x2: xR, y2: yR},
                style: {stroke: '#000', lineWidth: 3.3}};
      }
    },
    {
      type: 'custom', xAxisIndex: 2, yAxisIndex: 1, data: chromEdges,
      encode: {x: 0, y: [1, 2]}, clip: false, silent: true, z: 3,
      renderItem(params, api) {
        const c = api.value(0);
        const a = api.coord([c - HALF, api.value(1)]);
        const b = api.coord([c - HALF, api.value(2)]);
        const xR = api.coord([c + HALF, 0])[0];
        const r1 = chart.convertToPixel({yAxisIndex: 2}, api.value(3));
        const r2 = chart.convertToPixel({yAxisIndex: 2}, api.value(4));
        const st = {stroke: '#9a9a9a', lineWidth: 2.5};
        return {type: 'group', children: [
          {type: 'line', shape: {x1: a[0], y1: a[1], x2: b[0], y2: b[1]}, style: st},
          {type: 'line', shape: {x1: xR, y1: r1, x2: xR, y2: r2}, style: st}
        ]};
      }
    }
  ],
  graphic: [
    {type: 'text', x: 100, y: 67, style: {text: 'A', fontSize: 70, fontFamily: FONT, fill: '#000', textAlign: 'center', textVerticalAlign: 'middle'}},
    {type: 'text', x: 1553, y: 67, style: {text: 'B', fontSize: 70, fontFamily: FONT, fill: '#000', textAlign: 'center', textVerticalAlign: 'middle'}},
    {type: 'text', x: 860, y: 82, style: {text: 'Genotype Data', fontSize: 52, fontFamily: FONT, fill: '#000', textAlign: 'center', textVerticalAlign: 'middle'}},
    {type: 'text', x: 63, y: 690, rotation: Math.PI / 2, style: {text: 'Individuals', fontSize: 52, fontFamily: FONT, fill: '#000', textAlign: 'center', textVerticalAlign: 'middle'}},
    {type: 'text', x: 1590, y: 730, rotation: Math.PI / 2, style: {text: 'Physical location (Mb)', fontSize: 48, fontFamily: FONT, fill: '#1e1e1e', textAlign: 'center', textVerticalAlign: 'middle'}},
    {type: 'text', x: 2964, y: 724, rotation: Math.PI / 2, style: {text: 'Genetic location (cM)', fontSize: 49, fontFamily: FONT, fill: '#1e1e1e', textAlign: 'center', textVerticalAlign: 'middle'}}
  ]
});
</script></body></html>
